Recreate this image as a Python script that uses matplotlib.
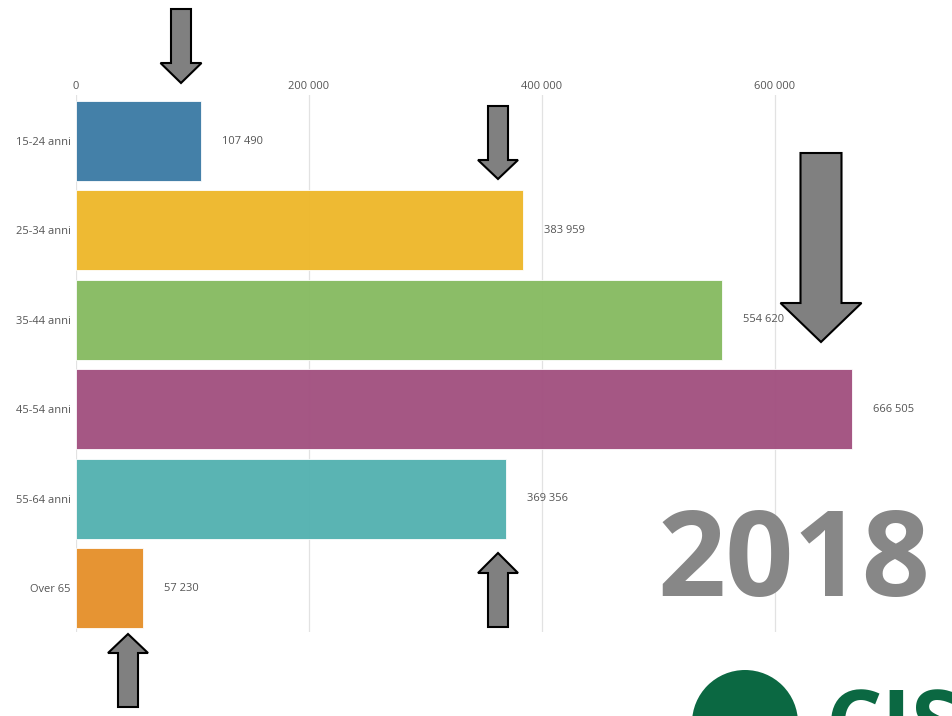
import matplotlib.pyplot as plt
from matplotlib.patches import Polygon, Circle

categories = ['15-24 anni', '25-34 anni', '35-44 anni', '45-54 anni', '55-64 anni', 'Over 65']
values = [107490, 383959, 554620, 666505, 369356, 57230]
value_labels = ['107 490', '383 959', '554 620', '666 505', '369 356', '57 230']
tick_values = [0, 200000, 400000, 600000]
tick_labels = ['0', '200 000', '400 000', '600 000']
year = '2018'

colors = ['#3e7ca5', '#eeb82c', '#87bb62', '#a25180', '#55b2b1', '#e6912c']

W, H = 953, 716
fig = plt.figure(figsize=(W / 100, H / 100), dpi=100)
fig.patch.set_facecolor('white')


def px(x0, y0, x1, y1):
    # pixel box (top-left origin) -> figure fraction rect
    return [x0 / W, 1 - y1 / H, (x1 - x0) / W, (y1 - y0) / H]


ax = fig.add_axes(px(76, 95, 953, 632))
ax.set_facecolor('none')
ax.set_xlim(0, 877 / 699 * 600000)
ax.set_ylim(5.49, -0.515)

ax.barh(range(len(values)), values, height=0.895, color=colors, alpha=0.97,
        edgecolor='white', linewidth=0.6, zorder=2)
for i, (v, lab) in enumerate(zip(values, value_labels)):
    ax.text(v + 18000, i, lab, va='center', ha='left', fontsize=8,
            color='#555555', family='Open Sans')

ax.set_yticks(range(len(categories)))
ax.set_yticklabels(categories, fontsize=8, color='#555555', family='Open Sans')
ax.xaxis.tick_top()
ax.set_xticks(tick_values)
ax.set_xticklabels(tick_labels, fontsize=8, color='#555555', family='Open Sans')
ax.tick_params(length=0, pad=4)
ax.tick_params(axis='x', pad=2)
ax.grid(axis='x', color='#e2e2e2', linewidth=0.9, zorder=0)
for s in ax.spines.values():
    s.set_visible(False)

# big year label
fig.text(794 / W, 1 - 565 / H, year, ha='center', va='center', fontsize=86,
         fontweight='bold', color='#878787', family='Open Sans')

# logo, cut off at the bottom edge
fig.patches.append(Circle((745 / 100, (H - 723) / 100), 53 / 100,
                          transform=fig.dpi_scale_trans,
                          facecolor='#0b6842', edgecolor='none'))
fig.text(826 / W, 1 - 686 / H, 'CISL', ha='left', va='top', fontsize=64,
         fontweight='bold', color='#0b6842', family='Open Sans')

# block arrows: (centre x, tip y, tail y, shaft w, head w, head len)
arrows = [
    (181, 83, 9, 20, 41, 20),
    (498, 179, 106, 20, 40, 19),
    (821, 342, 153, 41, 81, 39),
    (498, 553, 627, 20, 40, 20),
    (128, 634, 707, 20, 40, 19),
]


def arrow_poly(cx, tip, tail, sw, hw, hl):
    d = 1 if tail < tip else -1
    base = tip - d * hl
    pts = [(cx - sw / 2, tail), (cx + sw / 2, tail), (cx + sw / 2, base),
           (cx + hw / 2, base), (cx, tip), (cx - hw / 2, base), (cx - sw / 2, base)]
    return [(x / W, 1 - y / H) for x, y in pts]


for a in arrows:
    fig.patches.append(Polygon(arrow_poly(*a), closed=True, transform=fig.transFigure,
                               facecolor='#808080', edgecolor='black', linewidth=1.5,
                               joinstyle='miter', zorder=5))

fig.savefig('out.png', dpi=100, facecolor='white')
